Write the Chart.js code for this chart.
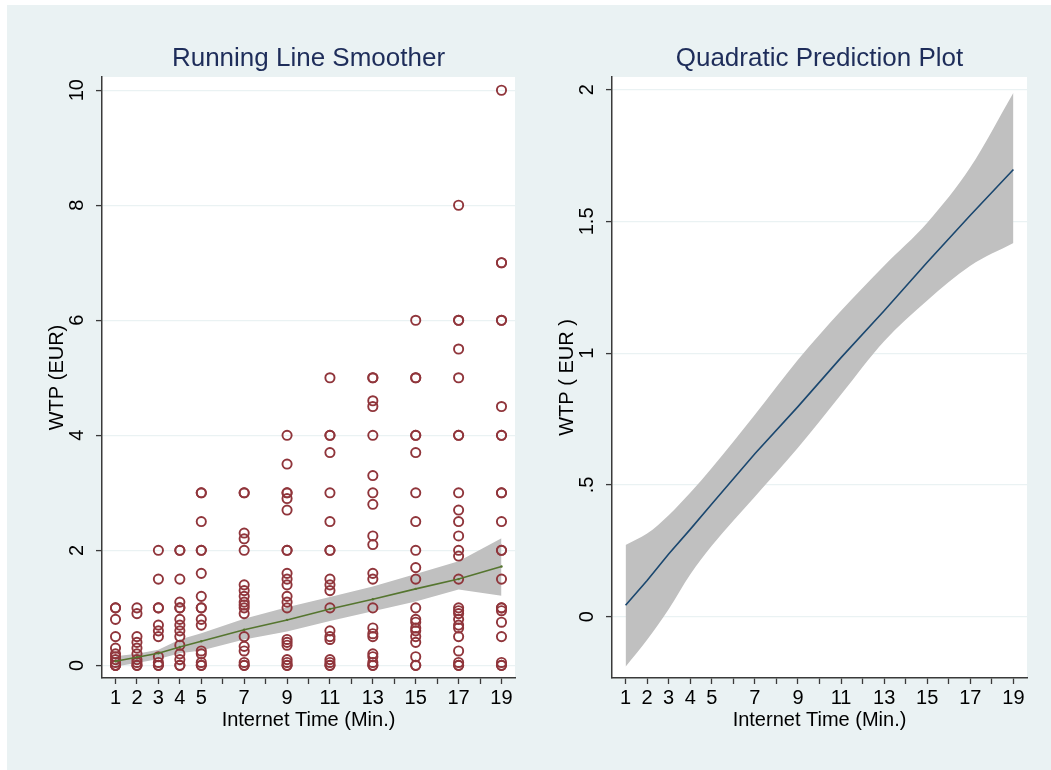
<!DOCTYPE html>
<html>
<head>
<meta charset="utf-8">
<script src="https://cdn.jsdelivr.net/npm/chart.js@4.4.1/dist/chart.umd.min.js"></script>
<style>
  html, body { margin: 0; padding: 0; background: #ffffff; }
  body { width: 1051px; height: 770px; position: relative; overflow: hidden; }
  #bg { position: absolute; left: 7px; top: 5px; width: 1044px; height: 765px; background: #eaf2f3; }
  #c1 { position: absolute; left: 0; top: 0; }
  #c2 { position: absolute; left: 525px; top: 0; }
</style>
</head>
<body>
<div id="bg"></div>
<canvas id="c1" width="525" height="770"></canvas>
<canvas id="c2" width="526" height="770"></canvas>
<script>
// ---- Data ----
const timeValues = [1, 2, 3, 4, 5, 7, 9, 11, 13, 15, 17, 19];

// observed WTP (EUR) per internet time (minutes)
const wtpT1  = [1, 1, 0.8, 0.5, 0.3, 0.2, 0.15, 0.1, 0.05, 0, 0, 0];
const wtpT2  = [1, 0.9, 0.5, 0.4, 0.3, 0.2, 0.1, 0.05, 0, 0];
const wtpT3  = [2, 1.5, 1, 1, 0.7, 0.6, 0.5, 0.15, 0.05, 0, 0];
const wtpT4  = [2, 2, 1.5, 1.1, 1, 1, 0.8, 0.7, 0.6, 0.5, 0.35, 0.2, 0.1, 0, 0];
const wtpT5  = [3, 3, 2.5, 2, 2, 1.6, 1.2, 1, 1, 0.8, 0.7, 0.25, 0.2, 0.05, 0, 0];
const wtpT7  = [3, 3, 2.3, 2.2, 2, 1.4, 1.3, 1.2, 1.1, 1.05, 1, 0.9, 0.5, 0.33, 0.25, 0.05, 0, 0];
const wtpT9  = [4, 3.5, 3, 3, 2.9, 2.7, 2, 2, 1.6, 1.5, 1.4, 1.2, 1.1, 1, 0.45, 0.4, 0.35, 0.1, 0.05, 0, 0];
const wtpT11 = [5, 4, 4, 3.7, 3, 2.5, 2, 2, 1.5, 1.4, 1.3, 1, 0.6, 0.5, 0.45, 0.1, 0.05, 0, 0];
const wtpT13 = [5, 5, 4.6, 4.5, 4, 3.3, 3, 2.8, 2.25, 2.1, 1.6, 1.5, 1, 0.65, 0.55, 0.5, 0.2, 0.15, 0.05, 0, 0];
const wtpT15 = [6, 5, 5, 4, 4, 3.7, 3, 2.5, 2, 1.7, 1.5, 1, 0.8, 0.75, 0.65, 0.6, 0.5, 0.4, 0.15, 0, 0];
const wtpT17 = [8, 6, 6, 5.5, 5, 4, 4, 3, 2.7, 2.5, 2.25, 2, 1.9, 1.5, 1, 0.95, 0.9, 0.8, 0.7, 0.65, 0.5, 0.25, 0.05, 0, 0];
const wtpT19 = [10, 7, 7, 6, 6, 4.5, 4, 4, 3, 3, 2.5, 2, 2, 1.5, 1, 1, 0.95, 0.75, 0.5, 0.05, 0, 0];
const wtpByTime = [wtpT1, wtpT2, wtpT3, wtpT4, wtpT5, wtpT7, wtpT9, wtpT11, wtpT13, wtpT15, wtpT17, wtpT19];

// running line smoother with CI band (left panel)
const smoothFit   = [0.07, 0.14, 0.21, 0.32, 0.42, 0.62, 0.79, 0.98, 1.15, 1.33, 1.50, 1.72];
const smoothUpper = [0.16, 0.20, 0.27, 0.45, 0.56, 0.81, 1.01, 1.19, 1.37, 1.59, 1.81, 2.21];
const smoothLower = [-0.02, 0.04, 0.11, 0.21, 0.26, 0.45, 0.59, 0.77, 0.94, 1.11, 1.32, 1.21];

// quadratic prediction with CI band (right panel)
const quadFit   = [0.043, 0.137, 0.238, 0.331, 0.427, 0.618, 0.797, 0.983, 1.161, 1.345, 1.523, 1.697];
const quadUpper = [0.272, 0.315, 0.385, 0.470, 0.564, 0.766, 0.975, 1.161, 1.332, 1.495, 1.705, 1.988];
const quadLower = [-0.190, -0.088, 0.028, 0.160, 0.269, 0.455, 0.641, 0.843, 1.045, 1.200, 1.332, 1.418];

// axis ticks
const xTickValues = [1, 2, 3, 4, 5, 6, 7, 8, 9, 10, 11, 12, 13, 14, 15, 16, 17, 18, 19];
const xTickLabels = ['1', '2', '3', '4', '5', '', '7', '', '9', '', '11', '', '13', '', '15', '', '17', '', '19'];
const yTickValuesLeft = [0, 2, 4, 6, 8, 10];
const yTickLabelsLeft = ['0', '2', '4', '6', '8', '10'];
const yTickValuesRight = [0, 0.5, 1, 1.5, 2];
const yTickLabelsRight = ['0', '.5', '1', '1.5', '2'];

// ---- Styling ----
const FONT = "'Liberation Sans', Arial, Helvetica, sans-serif";
const BG = '#eaf2f3';
const AXIS = '#3a3a3a';
const TITLE_COLOR = '#1e2d5a';

const plotBg = {
  id: 'plotBg',
  beforeDraw(chart) {
    const a = chart.chartArea, ctx = chart.ctx;
    ctx.save();
    ctx.fillStyle = '#ffffff';
    ctx.fillRect(a.left, a.top, a.right - a.left, a.bottom - a.top);
    ctx.restore();
  }
};

function pts(ys) { return timeValues.map((t, i) => ({ x: t, y: ys[i] })); }

function makeScales(yVals, yLabels, yMin, yMax, yTitle, yWidth, yTitlePad, yTickPad) {
  return {
    x: {
      type: 'linear', min: 0.37, max: 19.63,
      afterBuildTicks: s => { s.ticks = xTickValues.map(v => ({ value: v })); },
      afterFit: s => { s.height = 92; },
      grid: { display: true, drawOnChartArea: false, drawTicks: true, tickLength: 6, tickColor: AXIS, tickWidth: 1.3 },
      border: { display: true, color: AXIS, width: 1.5 },
      ticks: { color: '#000', font: { family: FONT, size: 20 }, padding: 2, maxRotation: 0, minRotation: 0, autoSkip: false,
               callback: (v, i) => xTickLabels[i] },
      title: { display: true, text: 'Internet Time (Min.)', color: '#000', font: { family: FONT, size: 20 },
               padding: { top: 0, bottom: 38 } }
    },
    y: {
      type: 'linear', min: yMin, max: yMax,
      afterBuildTicks: s => { s.ticks = yVals.map(v => ({ value: v })); },
      afterFit: s => { s.width = yWidth; },
      grid: { display: true, drawOnChartArea: true, color: BG, lineWidth: 1.2, drawTicks: true, tickLength: 6, tickColor: AXIS, tickWidth: 1.3 },
      border: { display: true, color: AXIS, width: 1.5 },
      ticks: { color: '#000', font: { family: FONT, size: 20 }, padding: yTickPad, minRotation: 90, maxRotation: 90,
               crossAlign: 'center', autoSkip: false, callback: (v, i) => yLabels[i] },
      title: { display: true, text: yTitle, color: '#000', font: { family: FONT, size: 20 },
               padding: { top: yTitlePad, bottom: 0 } }
    }
  };
}

function commonPlugins(title) {
  return {
    legend: { display: false },
    tooltip: { enabled: false },
    title: { display: true, text: title, fullSize: false, color: TITLE_COLOR,
             font: { family: FONT, size: 26, weight: 'normal', lineHeight: 1.2 },
             padding: { top: 43, bottom: 2.8 } }
  };
}

// ---- Left chart ----
const scatterPts = [];
timeValues.forEach((t, i) => wtpByTime[i].forEach(v => scatterPts.push({ x: t, y: v })));

new Chart(document.getElementById('c1'), {
  type: 'scatter',
  data: {
    datasets: [
      { data: pts(smoothFit), showLine: true, borderColor: '#55752f', borderWidth: 1.6, pointRadius: 1.2,
        pointBackgroundColor: '#55752f', pointBorderWidth: 0, fill: false },
      { data: scatterPts, showLine: false, pointStyle: 'circle', pointRadius: 4.6, borderWidth: 1.9,
        pointBorderColor: '#90353b', pointBackgroundColor: 'rgba(0,0,0,0)' },
      { data: pts(smoothUpper), showLine: true, borderWidth: 0, pointRadius: 0, fill: '+1', backgroundColor: '#c0c0c0', borderColor: 'rgba(0,0,0,0)' },
      { data: pts(smoothLower), showLine: true, borderWidth: 0, pointRadius: 0, fill: false, borderColor: 'rgba(0,0,0,0)' }
    ]
  },
  options: {
    responsive: false, animation: false, devicePixelRatio: 1,
    layout: { padding: { left: 0, right: 10, top: 0, bottom: 0 } },
    scales: makeScales(yTickValuesLeft, yTickLabelsLeft, -0.22, 10.23, 'WTP (EUR)', 102, 45, 7),
    plugins: commonPlugins('Running Line Smoother')
  },
  plugins: [plotBg]
});

// ---- Right chart ----
new Chart(document.getElementById('c2'), {
  type: 'scatter',
  data: {
    datasets: [
      { data: pts(quadFit), showLine: true, borderColor: '#1a476f', borderWidth: 1.6, pointRadius: 0, fill: false },
      { data: pts(quadUpper), showLine: true, borderWidth: 0, pointRadius: 0, fill: '+1', backgroundColor: '#c0c0c0', borderColor: 'rgba(0,0,0,0)', cubicInterpolationMode: 'monotone' },
      { data: pts(quadLower), showLine: true, borderWidth: 0, pointRadius: 0, fill: false, borderColor: 'rgba(0,0,0,0)', cubicInterpolationMode: 'monotone' }
    ]
  },
  options: {
    responsive: false, animation: false, devicePixelRatio: 1,
    layout: { padding: { left: 0, right: 24, top: 0, bottom: 0 } },
    scales: makeScales(yTickValuesRight, yTickLabelsRight, -0.233, 2.048, 'WTP ( EUR )', 87, 30, 4.5),
    plugins: commonPlugins('Quadratic Prediction Plot')
  },
  plugins: [plotBg]
});
</script>
</body>
</html>
